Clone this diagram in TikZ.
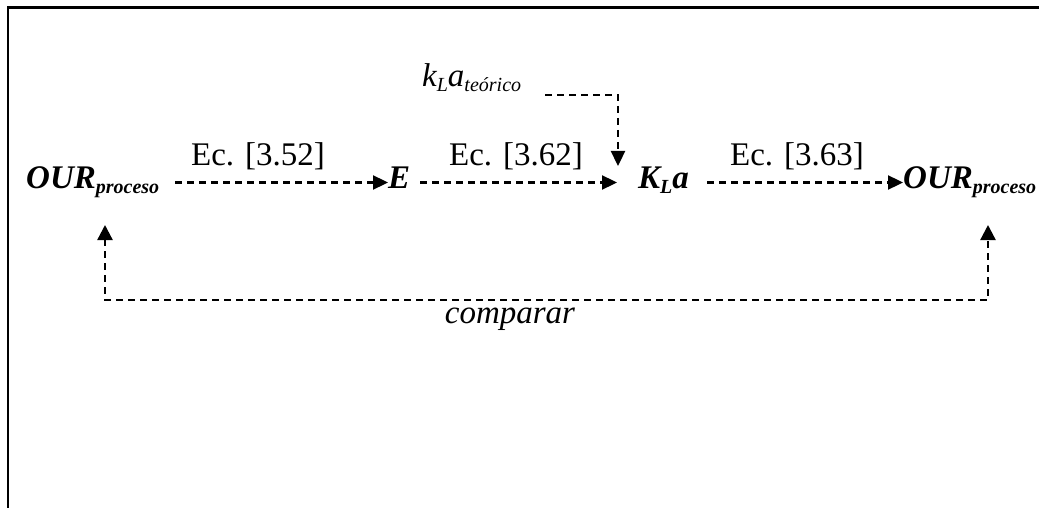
\documentclass[tikz,border=0pt]{standalone}
\usepackage{fontspec}
\setmainfont{Liberation Serif}
\usetikzlibrary{arrows.meta,calc}
\newcommand{\bigsz}{\fontsize{33}{40}\selectfont}
\newcommand{\subsz}{\fontsize{20}{24}\selectfont}
\newcommand{\sbs}[1]{\raisebox{-4.5pt}{\subsz #1}}
\tikzset{
  lbl/.style={inner sep=0pt, font=\bigsz},
  tip/.style={Triangle[length=15pt,width=14pt]},
  dasharrow/.style={line width=2.3pt, dash pattern=on 7pt off 5pt, -{Triangle[length=15pt,width=14pt]}},
  dashboth/.style={line width=2.3pt, dash pattern=on 7pt off 5pt, {Triangle[length=15pt,width=15pt]}-{Triangle[length=15pt,width=15pt]}},
  frame/.style={line width=2.5pt, black}
}
\begin{document}
\begin{tikzpicture}[x=1pt,y=-1pt]
\useasboundingbox (0,0) rectangle (1039,508);
\draw[frame] (8,508) -- (8,7.5) -- (1039,7.5);
\node[lbl, anchor=base west] (OURL) at (26,189) {\bfseries\itshape OUR\sbs{proceso}};
\node[lbl, anchor=base west] (E) at (388,189) {\bfseries\itshape E};
\node[lbl, anchor=base west] (KLa) at (638,189) {\bfseries\itshape K\sbs{L}a};
\node[lbl, anchor=base west] (OURR) at (903,189) {\bfseries\itshape OUR\sbs{proceso}};
\node[lbl, anchor=base west] (kT) at (422,87) {\itshape k\sbs{L}a\sbs{teórico}};
\node[lbl, anchor=base] (ec1) at (258,166) {Ec. [3.52]};
\node[lbl, anchor=base] (ec2) at (516,166) {Ec. [3.62]};
\node[lbl, anchor=base] (ec3) at (797,166) {Ec. [3.63]};
\node[lbl, anchor=base] (cmp) at (510,323) {\itshape comparar};
\coordinate (bl) at ($(OURL.base west)+(79,111)$);
\coordinate (br) at ($(OURR.base west)+(85,111)$);
\draw[dasharrow] ($(OURL.base west)+(149,-6.5)$) -- ($(E.base west)+(0,-6.5)$);
\draw[dasharrow] ($(E.base west)+(32,-6.5)$) -- ($(KLa.base west)+(-21,-6.5)$);
\draw[dasharrow] ($(KLa.base west)+(69,-6.5)$) -- ($(OURR.base west)+(0,-6.5)$);
\draw[dasharrow] ($(kT.base west)+(123,8)$) -| ($(KLa.base west)+(-20,-23)$);
\draw[dashboth] ($(OURL.base west)+(79,36)$) -- (bl) -- (br) -- ($(OURR.base west)+(85,36)$);
\end{tikzpicture}
\end{document}
